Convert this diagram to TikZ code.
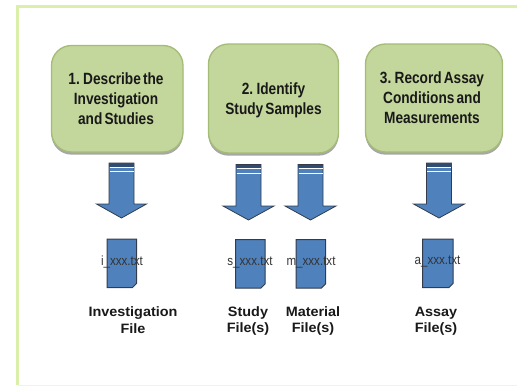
\documentclass[tikz,border=0pt]{standalone}
\usepackage{fontspec}
\setmainfont{Liberation Sans}
\newfontfamily\stagefont[WordSpace=0.55]{Liberation Sans}
\usetikzlibrary{shadows}

\definecolor{boxgreen}{RGB}{195,214,155}
\definecolor{boxline}{RGB}{165,188,120}
\definecolor{framegreen}{RGB}{218,240,170}
\definecolor{arrowblue}{RGB}{79,129,189}
\definecolor{darkstripe}{RGB}{50,75,115}
\definecolor{lineblue}{RGB}{50,60,75}
\definecolor{labelblack}{RGB}{25,25,25}

\tikzset{every picture/.style={line width=0.75pt}}
\tikzset{
  stagebox/.style={draw=boxline,fill=boxgreen,line width=1pt,rounded corners=15pt,drop shadow={shadow xshift=0pt,shadow yshift=-2pt,opacity=0.35,fill=black}},
  stagetext/.style={inner sep=0.75pt,align=center,text=labelblack,font=\stagefont\bfseries\fontsize{12.2pt}{15pt}\selectfont,xscale=0.84},
  filetext/.style={inner sep=0.75pt,text=black!80,font=\fontsize{10pt}{12pt}\selectfont,xscale=0.87},
  filelabel/.style={inner sep=0.75pt,align=center,text=labelblack,font=\bfseries\fontsize{10.2pt}{12.4pt}\selectfont,xscale=1.06},
  arrowbody/.style={draw=lineblue,fill=arrowblue,line width=0.6pt},
  stripe/.style={draw=white,line width=0.5pt},
  filepage/.style={draw=lineblue,fill=arrowblue,line width=0.75pt},
}

\begin{document}
\begin{tikzpicture}[x=0.75pt,y=0.75pt,yscale=-1,xscale=1]
\useasboundingbox (0,0) rectangle (517,386);

%Shape: Frame
\draw [color=framegreen,line width=2.6pt] (17.5,385) -- (17.5,6.5) -- (517,6.5) ;
\draw [color=framegreen!45,line width=0.75pt] (17.5,385.2) -- (517,385.2) ;

%Shape: Rounded Rectangle
\draw [stagebox] (51.5,45.5) rectangle (183,152) ;
\draw [stagebox] (208.5,44) rectangle (338.5,153) ;
\draw [stagebox] (365.5,44) rectangle (502.5,152) ;

% Text Node
\node (describe) [stagetext] at (116,99) {1. Describe the\\Investigation\\and Studies};
% Text Node
\node (identify) [stagetext] at (273.5,100) {2. Identify\\Study Samples};
% Text Node
\node (record) [stagetext] at (432,98) {3. Record Assay\\Conditions and\\Measurements};

%Shape: Down Arrow
\draw [arrowbody] (109,163) -- (134,163) -- (134,204) -- (146.5,204) -- (121.5,218) -- (96.5,204) -- (109,204) -- cycle ;
\fill [darkstripe] (109,163) rectangle (134,166.5) ;
\draw [stripe] (109.5,167) -- (133.5,167) (109.5,171.5) -- (133.5,171.5) ;
%Shape: Down Arrow
\draw [arrowbody] (236,164.5) -- (261,164.5) -- (261,206) -- (274,206) -- (248.5,220) -- (223,206) -- (236,206) -- cycle ;
\fill [darkstripe] (236,164.5) rectangle (261,168) ;
\draw [stripe] (236.5,168.5) -- (260.5,168.5) (236.5,173) -- (260.5,173) ;
%Shape: Down Arrow
\draw [arrowbody] (298,164.5) -- (323,164.5) -- (323,206) -- (336,206) -- (310.5,220) -- (285,206) -- (298,206) -- cycle ;
\fill [darkstripe] (298,164.5) rectangle (323,168) ;
\draw [stripe] (298.5,168.5) -- (322.5,168.5) (298.5,173) -- (322.5,173) ;
%Shape: Down Arrow
\draw [arrowbody] (426.5,163) -- (451.5,163) -- (451.5,204) -- (464.5,204) -- (439,218) -- (413.5,204) -- (426.5,204) -- cycle ;
\fill [darkstripe] (426.5,163) rectangle (451.5,166.5) ;
\draw [stripe] (427,167) -- (451,167) (427,171.5) -- (451,171.5) ;

%Shape: Page
\draw [filepage] (107,239) -- (136.5,239) -- (136.5,283.5) -- (132.5,287.5) -- (107,287.5) -- cycle ;
\draw [filepage] (235.5,239.5) -- (265,239.5) -- (265,284) -- (261,288) -- (235.5,288) -- cycle ;
\draw [filepage] (296,239.5) -- (325.5,239.5) -- (325.5,284) -- (321.5,288) -- (296,288) -- cycle ;
\draw [filepage] (422.5,239) -- (453,239) -- (453,283.5) -- (449,287.5) -- (422.5,287.5) -- cycle ;

% Text Node
\node (ifile) [filetext] at (122,262) {i\_xxx.txt};
% Text Node
\node (sfile) [filetext] at (250,263) {s\_xxx.txt};
% Text Node
\node (mfile) [filetext] at (311,263) {m\_xxx.txt};
% Text Node
\node (afile) [filetext] at (437.5,262) {a\_xxx.txt};

% Text Node
\node (investigation) [filelabel] at (133,320) {Investigation\\File};
% Text Node
\node (study) [filelabel] at (248,321) {Study\\File(s)};
% Text Node
\node (material) [filelabel] at (313,321) {Material\\File(s)};
% Text Node
\node (assay) [filelabel] at (436,321) {Assay\\File(s)};

\end{tikzpicture}
\end{document}
